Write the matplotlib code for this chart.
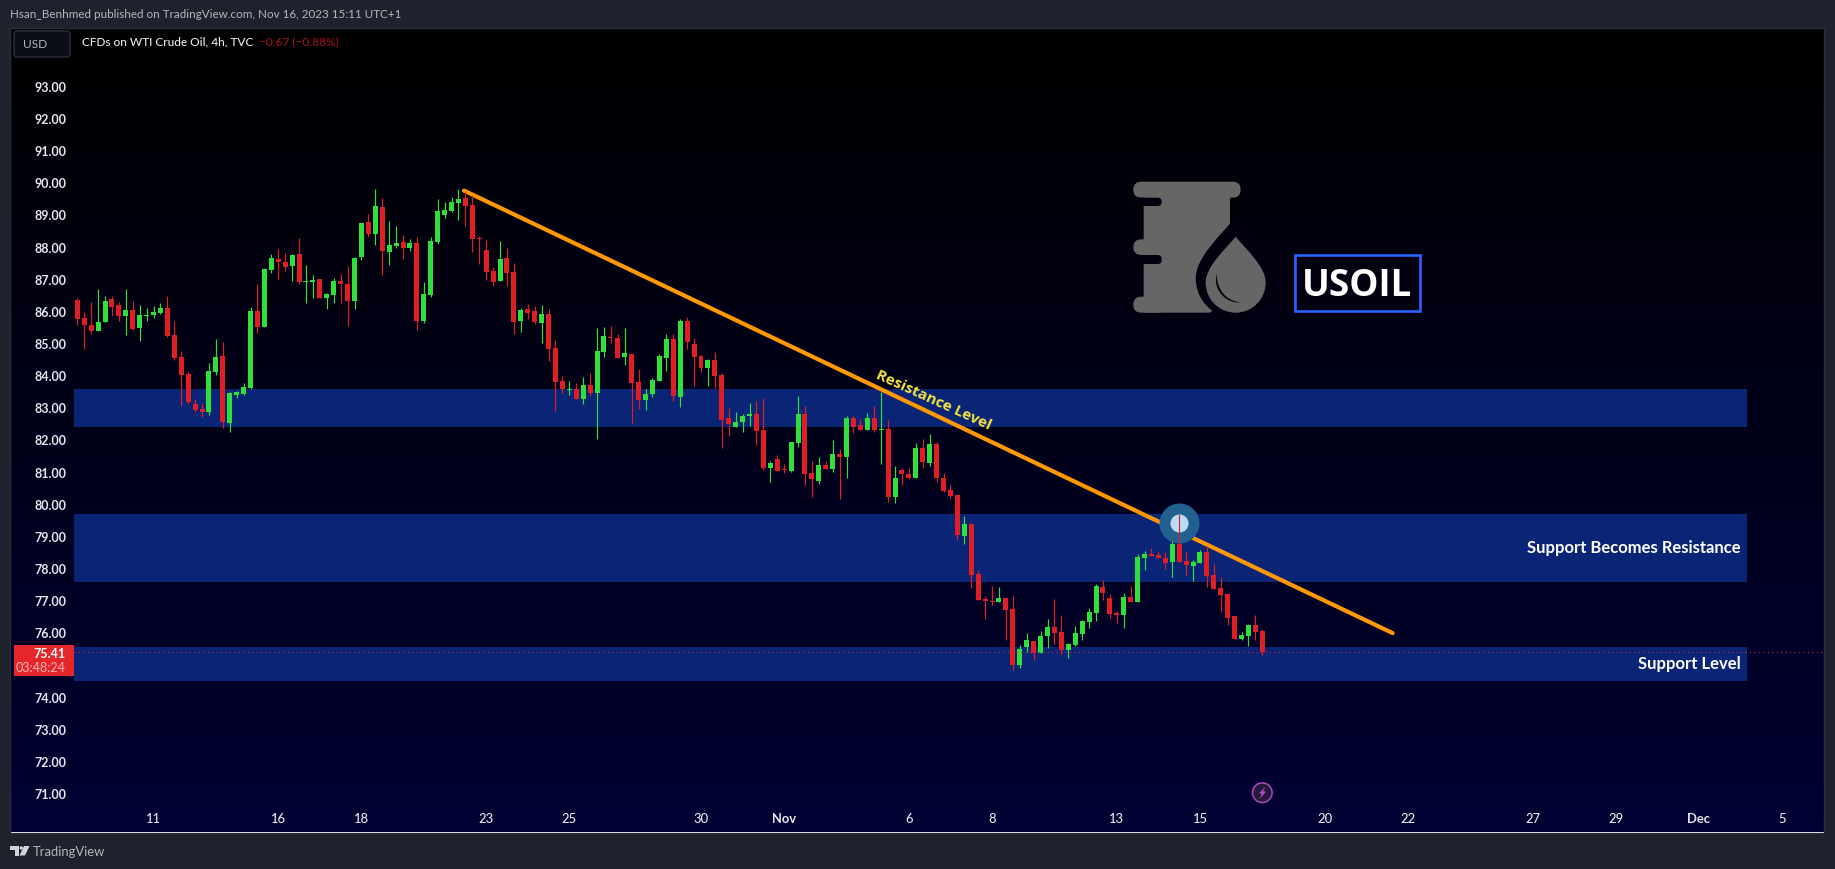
import numpy as np
import matplotlib
matplotlib.use("Agg")
import matplotlib.pyplot as plt
from matplotlib.patches import Rectangle, FancyBboxPatch, PathPatch, Circle, Polygon
from matplotlib.path import Path

# ---------- data ----------
highs = [86.43,85.99,86.31,86.71,86.49,86.49,86.31,86.71,86.34,86.21,86.12,86.18,86.27,86.49,85.71,84.78,84.13,83.29,83.16,84.41,
85.15,85.06,83.51,83.54,83.79,86.15,86.87,87.36,87.80,87.95,87.83,87.80,88.30,87.46,87.15,87.02,86.59,87.05,87.18,87.42,
87.69,88.76,89.04,89.82,89.54,88.82,88.67,88.39,88.26,88.33,86.93,88.33,89.51,89.41,89.57,89.82,89.76,89.63,88.36,88.23,
87.39,88.20,87.98,87.52,86.12,86.24,86.18,86.21,86.09,85.12,84.00,83.85,83.78,83.97,84.10,85.50,85.53,85.56,85.31,85.50,
84.69,84.22,83.60,83.94,84.69,85.31,85.31,85.78,85.84,85.19,84.66,84.53,84.75,84.10,83.01,82.89,82.82,83.17,83.23,83.32,
81.36,81.55,81.27,81.95,83.38,83.07,81.36,81.49,81.36,82.01,81.73,82.76,82.76,82.67,82.85,83.07,83.51,82.64,81.21,81.14,
81.14,81.92,82.05,82.20,81.95,80.98,80.61,80.30,79.65,79.43,77.97,77.16,77.47,77.44,77.10,77.16,75.64,76.01,75.76,76.07,
76.44,77.07,76.57,75.70,76.23,76.41,76.79,77.53,77.66,77.22,76.69,77.25,77.47,78.47,78.56,78.65,78.56,78.53,78.86,79.71,
78.56,78.28,78.59,78.71,78.15,77.75,77.25,76.54,76.04,76.29,76.57,76.13]
tops = [86.37,85.81,85.59,85.68,86.34,86.40,86.21,86.06,86.06,85.90,85.90,85.99,86.12,86.12,85.28,84.60,84.07,83.13,82.98,84.16,
84.60,84.63,83.48,83.51,83.66,86.03,86.03,87.33,87.67,87.64,87.55,87.77,87.80,86.96,86.99,87.02,86.55,86.96,86.96,86.87,
87.67,88.76,88.79,89.29,89.26,88.08,88.14,88.17,88.14,88.14,86.55,88.20,89.14,89.17,89.41,89.51,89.54,89.32,88.31,87.92,
87.27,87.64,87.67,87.24,86.06,86.09,86.03,85.93,85.93,84.88,83.85,83.60,83.60,83.72,83.72,84.78,85.25,85.22,85.19,84.72,
84.69,83.82,83.45,83.88,84.63,85.16,85.16,85.72,85.72,85.00,84.63,84.50,84.50,84.04,82.70,82.57,82.76,82.82,82.82,82.33,
81.30,81.42,81.11,81.95,82.82,82.82,80.99,81.24,81.24,81.58,81.58,82.70,82.70,82.48,82.70,82.70,82.36,82.36,80.83,81.08,
80.96,81.77,81.77,81.89,81.89,80.83,80.46,80.30,79.40,79.40,77.84,77.07,77.00,77.10,77.10,76.75,75.51,75.79,75.76,75.92,
76.20,76.20,76.04,75.67,76.01,76.38,76.66,77.47,77.44,77.10,76.63,77.13,77.13,78.37,78.47,78.47,78.43,78.34,78.78,78.78,
78.25,78.22,78.53,78.53,77.81,77.41,77.22,76.54,75.95,76.26,76.26,76.07]
bottoms = [85.78,85.59,85.40,85.40,85.68,86.15,85.87,85.87,85.47,85.50,85.87,85.90,85.96,85.25,84.56,84.04,83.20,82.95,82.89,82.89,
84.13,82.57,82.54,83.41,83.44,83.63,85.53,85.53,87.30,87.55,87.39,87.42,86.93,86.93,86.93,86.43,86.43,86.52,86.87,86.34,
86.34,87.70,88.42,88.42,87.89,87.86,88.05,87.98,87.98,85.71,85.71,86.52,88.17,89.01,89.14,89.38,89.29,88.26,88.27,87.24,
86.93,86.96,87.21,85.68,85.71,85.96,85.68,85.65,84.84,83.82,83.60,83.57,83.29,83.29,83.48,83.48,84.75,85.19,84.56,84.60,
83.79,83.26,83.26,83.45,83.85,84.56,83.38,83.35,85.06,84.60,84.25,84.25,84.00,82.64,82.51,82.42,82.57,82.76,82.29,81.14,
81.14,81.05,81.08,81.05,81.92,80.96,80.80,80.74,81.11,81.11,81.49,81.49,82.42,82.33,82.33,82.33,82.33,80.24,80.24,80.96,
80.83,80.83,81.33,81.30,80.83,80.42,80.27,79.06,79.02,77.81,77.03,77.00,76.97,76.97,76.72,75.01,75.01,75.57,75.38,75.39,
75.92,76.01,75.48,75.48,75.64,75.98,76.35,76.63,77.25,76.60,76.57,76.57,76.97,76.97,78.34,78.40,78.34,78.19,78.22,78.22,
78.12,78.09,78.19,77.78,77.38,77.19,76.48,75.82,75.82,75.92,76.04,75.41]
lows = [85.59,84.84,85.31,85.40,85.68,85.87,85.71,85.28,85.43,85.09,85.71,85.81,85.93,85.22,84.50,83.07,83.13,82.89,82.73,82.79,
84.04,82.39,82.26,83.32,83.41,83.60,85.34,85.53,87.21,87.02,87.27,86.96,86.87,86.27,86.43,86.43,86.09,86.27,86.27,85.56,
86.09,87.61,88.33,88.08,87.15,87.46,87.98,87.64,87.89,85.43,85.65,86.46,88.11,88.92,89.10,88.86,88.67,87.86,87.49,86.99,
86.80,86.96,86.80,85.31,85.37,85.78,85.62,85.03,84.47,82.92,83.48,83.41,83.29,83.13,83.38,82.05,84.60,85.03,84.56,84.35,
82.51,82.98,82.95,83.35,83.85,84.16,83.23,83.04,84.84,83.69,84.13,83.69,83.63,81.77,82.14,82.42,82.26,82.45,81.86,81.08,
80.71,81.05,80.99,81.02,81.80,80.62,80.24,80.65,81.11,81.02,80.18,80.83,82.23,82.33,82.33,82.26,81.27,80.09,80.06,80.62,
80.80,80.83,81.14,81.21,80.71,80.39,80.21,78.90,78.78,77.41,77.03,76.44,76.88,76.97,75.79,74.86,74.92,75.42,75.17,75.39,
75.54,75.67,75.36,75.23,75.60,75.79,76.16,76.38,77.03,76.48,76.32,76.16,76.97,76.97,77.97,78.40,78.34,78.00,77.75,78.22,
77.81,77.63,78.19,77.44,77.38,76.69,76.26,75.82,75.79,75.60,75.79,75.32]
# indices of the candles that closed higher (green)
rising_idx = [3,4,7,9,10,11,12,19,20,22,23,24,25,27,28,31,33,34,36,37,40,41,43,45,46,48,50,51,52,53,54,55,
              61,64,67,71,73,75,76,79,82,83,84,85,87,91,95,96,97,100,103,104,107,109,111,114,116,118,121,123,
              128,133,136,137,139,140,143,144,145,146,147,151,153,154,158,161,162,168,169]
price_ticks = [93,92,91,90,89,88,87,86,85,84,83,82,81,80,79,78,77,76,74,73,72,71]
date_pos = [11,29,41,59,71,90,102,120,132,150,162,180,192,210,222,234,246]
date_labels = ["11","16","18","23","25","30","Nov","6","8","13","15","20","22","27","29","Dec","5"]
zone_low = [82.43,77.60,74.52]
zone_high = [83.60,79.71,75.57]
zone_end = 240.9
trend_x = [55.8,189.8]
trend_y = [89.77,76.01]
last_price = 75.41
marker_idx = 159
marker_price = 79.43

W, H = 1835, 869
FONT = ["Lato", "DejaVu Sans"]
plt.rcParams["font.family"] = FONT

fig = plt.figure(figsize=(W/100, H/100), dpi=100, facecolor="#1e222d")

def rect(l, t, r, b):
    return [l/W, 1-b/H, (r-l)/W, (b-t)/H]

# panel background with vertical gradient
PL, PT, PR, PB = 10, 27.5, 1824, 832.5
bg = fig.add_axes(rect(PL, PT, PR, PB), zorder=0)
grad = np.zeros((256, 1, 3))
grad[:, 0, 2] = np.linspace(0, 1, 256) * 52/255
bg.imshow(grad, aspect="auto", extent=(0, 1, 0, 1))
bg.set_xticks([]); bg.set_yticks([])
for s in bg.spines.values():
    s.set_color("#2a2e39"); s.set_linewidth(1.0)

# main axes, placed so that prices and candle indices fall where they belong
AL, AR, AT, AB = 74, 1823.5, 28, 805
ax = fig.add_axes(rect(AL, AT, AR, AB), zorder=1)
ax.patch.set_alpha(0)
px_per_price = 32.16
y93 = 86.7
ax.set_ylim(93-(AB-y93)/px_per_price, 93+(y93-AT)/px_per_price)
ax.set_xlim((AL-77.3)/6.93, (AR-77.3)/6.93)
for s in ax.spines.values():
    s.set_visible(False)

ax.set_yticks(price_ticks)
ax.set_yticklabels([f"{p:.2f}" for p in price_ticks], fontsize=9.0, color="#e4e6ec", fontweight="bold")
ax.set_xticks(date_pos)
ax.set_xticklabels(date_labels, fontsize=9.4, color="#e4e6ec", fontweight="medium")
ax.get_xticklabels()[6].set_fontweight("bold")
ax.get_xticklabels()[15].set_fontweight("bold")
ax.tick_params(axis="y", length=0, pad=5.6)
ax.tick_params(axis="x", length=0, pad=6.0)

# zones
x0, x1 = ax.get_xlim()
for lo, hi in zip(zone_low, zone_high):
    ax.axhspan(lo, hi, xmin=0, xmax=(zone_end-x0)/(x1-x0), color="#0a2575", lw=0, zorder=1)

# trend line and marker
ax.plot(trend_x, trend_y, color="#ff9800", lw=3.0, zorder=2, solid_capstyle="round")
ax.plot([marker_idx], [marker_price], "o", ms=28.8, mfc="#22618f", mec="none", zorder=3)
ax.plot([marker_idx], [marker_price], "o", ms=13, mfc="#bcdcf6", mec="none", zorder=3.1)

# candles
idx = np.arange(len(highs))
h, t, b, l = map(np.array, (highs, tops, bottoms, lows))
up = np.zeros(len(idx), bool)
up[rising_idx] = True
GREEN, RED = "#2fdf3c", "#e01e25"
cols = [GREEN if u else RED for u in up]
ax.vlines(idx, l, h, colors=cols, lw=0.85, zorder=4)
ax.bar(idx, np.maximum(t-b, 0.03), bottom=b, width=0.72, color=cols, lw=0, zorder=5)

# last price line
ax.axhline(last_price, color="#e5262b", lw=0.8, ls=(0, (1, 3)), zorder=6)

# overlay in pixel coordinates for annotations and decoration
ov = fig.add_axes([0, 0, 1, 1], zorder=2)
ov.set_xlim(0, W); ov.set_ylim(H, 0); ov.axis("off"); ov.patch.set_alpha(0)

ov.text(934, 400, "Resistance Level", color="#f4e43f", fontsize=11.0, fontweight="bold",
        rotation=-24.5, rotation_mode="anchor", ha="center", va="center", family=["Open Sans", "DejaVu Sans"])
ov.text(1741, 548, "Support Becomes Resistance", color="white", fontsize=12.0, fontweight="bold", ha="right", va="center")
ov.text(1741, 664, "Support Level", color="white", fontsize=12.0, fontweight="bold", ha="right", va="center")

# header / footer texts
ov.text(10, 15, "Hsan_Benhmed published on TradingView.com, Nov 16, 2023 15:11 UTC+1", color="#b4b7c0", fontsize=8.35, va="center")
ov.text(82, 42, "CFDs on WTI Crude Oil, 4h, TVC", color="#e8e9ee", fontsize=8.6, va="center", fontweight="medium")
ov.text(259, 42, "\u22120.67 (\u22120.88%)", color="#a51a1e", fontsize=8.6, va="center")
ov.add_patch(FancyBboxPatch((14, 31), 56, 26, boxstyle="round,pad=0,rounding_size=3", fc="#0c0e15", ec="#2a2e39", lw=1))
ov.text(23, 44.5, "USD", color="#b4b7c0", fontsize=8.6, va="center")
ov.text(33, 851.5, "TradingView", color="#b4b7c0", fontsize=9.4, va="center")
# TradingView logo
ov.add_patch(Polygon([(10, 846), (19, 846), (19, 855.5), (15, 855.5), (15, 849.5), (10, 849.5)], fc="#d1d4dc", ec="none"))
ov.add_patch(Circle((21.3, 848), 1.7, fc="#d1d4dc", ec="none"))
ov.add_patch(Polygon([(24, 846), (29.5, 846), (25, 855.5), (19.5, 855.5)], fc="#d1d4dc", ec="none"))

# current price tag
ov.add_patch(Rectangle((14, 645), 60, 31, fc="#e5262b", ec="none"))
ov.text(65, 654, f"{last_price:.2f}", color="white", fontsize=9.0, ha="right", va="center", fontweight="bold")
ov.text(65.5, 668, "03:48:24", color="#f8b4b6", fontsize=9.0, ha="right", va="center")

# event icon
ov.add_patch(Circle((1262.3, 792.7), 9.8, fc="#241a3c", ec="#ab47bc", lw=1.1))
ov.add_patch(Polygon([(1265.5, 786.5), (1259, 793.5), (1262, 793.5), (1259.5, 799), (1266, 791.5), (1263, 791.5)], fc="#ba4fcc", ec="none"))

# barrel icon
GREY, DARK = "#666666", "#00000f"
def z(x, y):
    return (1100+x/3, 160+y/3)
def zr(x0, y0, x1, y1, fc, r=8):
    p0 = z(x0, y0); p1 = z(x1, y1)
    ov.add_patch(FancyBboxPatch(p0, p1[0]-p0[0], p1[1]-p0[1], boxstyle=f"round,pad=0,rounding_size={r}", fc=fc, ec="none", zorder=3))
ov.add_patch(Polygon([z(131, 90), z(390, 90), z(390, 410), z(330, 458), z(131, 458)], fc=GREY, ec="none", zorder=3))
zr(100, 65, 422, 113, GREY)
zr(100, 238, 200, 285, GREY)
zr(100, 410, 200, 458, GREY)
zr(80, 113, 185, 138, DARK, r=4)
zr(80, 285, 185, 312, DARK, r=4)
def drop(cx, cy, k, fc, zo):
    def q(x, y):
        return z(cx+(x-407)*k, cy+(y-368)*k)
    verts = [q(407, 230), q(440, 270), q(497, 320), q(497, 368), q(497, 418), q(457, 458), q(407, 458),
             q(357, 458), q(317, 418), q(317, 368), q(317, 320), q(374, 270), q(407, 230)]
    codes = [Path.MOVETO] + [Path.CURVE4]*12
    ov.add_patch(PathPatch(Path(verts, codes), fc=fc, ec="none", zorder=zo))
# dark outline around the drop, then the drop and its highlight
drop(407, 355, 1.33, DARK, 3.2)
drop(407, 368, 1.0, GREY, 3.3)
cres = [z(350, 342), z(337, 395), z(385, 432), z(420, 427), z(375, 420), z(352, 390), z(350, 342)]
ov.add_patch(PathPatch(Path(cres, [Path.MOVETO]+[Path.CURVE4]*6), fc=DARK, ec="none", zorder=3.4))

# USOIL box
ov.add_patch(Rectangle((1294.5, 254.5), 125, 56, fc="none", ec="#2962ff", lw=1.9, zorder=3))
ov.text(1357, 282, "USOIL", color="white", fontsize=26.5, fontweight="bold", ha="center", va="center_baseline",
        family=["Open Sans", "DejaVu Sans"], zorder=4)

fig.savefig("out.png", dpi=100, facecolor=fig.get_facecolor())
